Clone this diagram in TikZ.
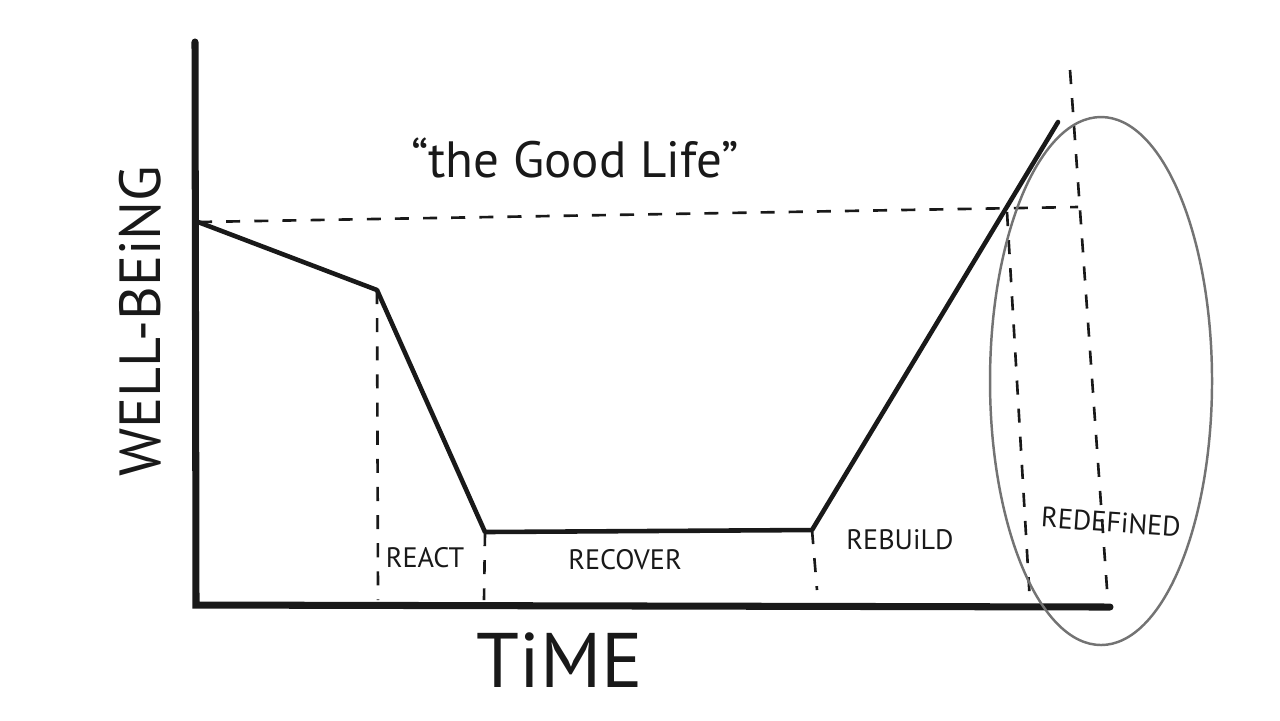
\documentclass[tikz,border=0pt]{standalone}
\usepackage{fontspec}
\setmainfont{PT Sans}
\usetikzlibrary{
    positioning,
    calc
}
\tikzset{
    % Colors
    ink color/.style={black!90},
    ring color/.style={black!55},
    %
    % Lines
    axis/.style={ink color,line width=2pt,line cap=round},
    curve/.style={ink color,line width=1.3pt,line join=round,line cap=round},
    guide/.style={ink color,line width=0.75pt,dash pattern=on 4pt off 4pt},
    ring/.style={ring color,line width=0.7pt},
    %
    % Texts
    phase/.style={font=\fontsize{8}{10}\selectfont},
    axis label/.style={font=\fontsize{22}{26}\selectfont},
    value label/.style={font=\fontsize{16.5}{19}\selectfont},
    title label/.style={font=\fontsize{14.5}{17}\selectfont}
}
\tikzstyle{every node}=[ink color,inner sep=1pt]

\begin{document}
\begin{tikzpicture}[x=0.01cm,y=-0.01cm]
    \useasboundingbox (0,0) rectangle (1280,720);
    % axes
    \coordinate (ytop) at (195,42);
    \coordinate (origin) at (196,605);
    \coordinate (xend) at (1110,607);
    \draw[axis] (ytop) -- (origin) -- (xend);
    \node[axis label] (time) at (560,660) {TiME};
    \node[value label,rotate=90] (wellbeing) at (140,321) {WELL-BEiNG};
    % the curve
    \coordinate (start) at (198,222);
    \coordinate (react) at (377,290);
    \coordinate (low) at (485,532);
    \coordinate (rise) at (812,530);
    \coordinate (peak) at (1058,122);
    \draw[curve] (start) -- (react) -- (low) -- (rise) -- (peak);
    % good life level
    \coordinate (level) at (1078,207);
    \draw[guide] (start) -- (level);
    \node[title label] (goodlife) at (575,158) {“the Good Life”};
    % phase borders
    \coordinate (reactfoot) at (378,600);
    \coordinate (lowfoot) at (484,600);
    \coordinate (risefoot) at (817,590);
    \coordinate (crosstop) at (1007,212);
    \coordinate (crossfoot) at (1030,603);
    \coordinate (newtop) at (1070,70);
    \coordinate (newfoot) at (1108,603);
    \draw[guide] (react) -- (reactfoot);
    \draw[guide] (low) -- (lowfoot);
    \draw[guide] (rise) -- (risefoot);
    \draw[guide] (crosstop) -- (crossfoot);
    \draw[guide] (newtop) -- (newfoot);
    % phases
    \node[phase] (reactlabel) at (425,558) {REACT};
    \node[phase] (recoverlabel) at (625,560) {RECOVER};
    \node[phase] (rebuildlabel) at (900,540) {REBUiLD};
    \node[phase,rotate=-4] (redefinedlabel) at (1111,522) {REDEFiNED};
    % the new normal
    \draw[ring] (1101,381) ellipse [x radius=111, y radius=264];
\end{tikzpicture}
\end{document}
